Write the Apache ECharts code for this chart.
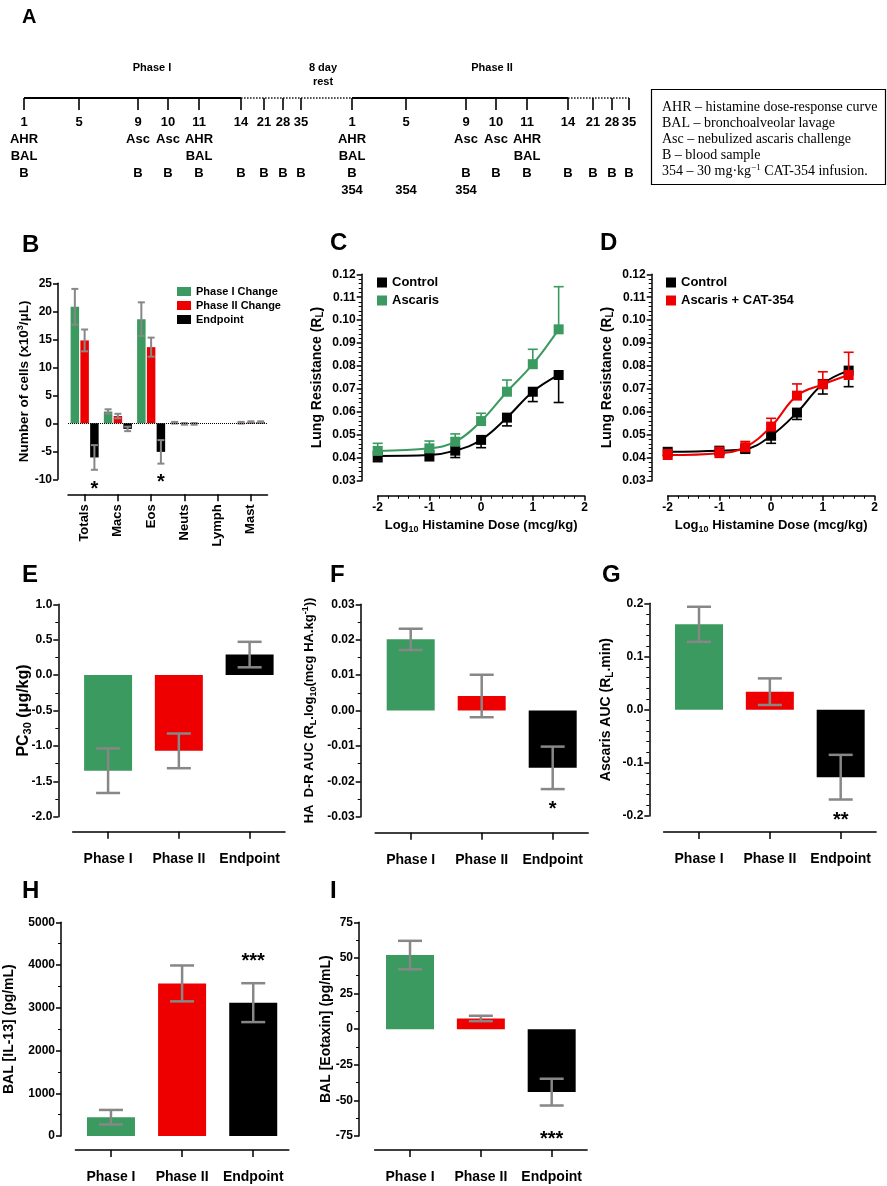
<!DOCTYPE html>
<html><head><meta charset="utf-8">
<script src="https://cdn.jsdelivr.net/npm/echarts@6/dist/echarts.min.js"></script>
<style>html,body{margin:0;padding:0;background:#fff}#c{width:887px;height:1186px}</style>
</head><body><div id="c"></div><script>
// ================= DATA =================
// Panel A – study timeline (schematic positions along the time bar)
const tlDays = ['1','5','9','10','11','14','21','28','35','1','5','9','10','11','14','21','28','35'];
const tlPos  = [0,5.5,11.4,14.4,17.5,21.7,24.0,25.9,27.7,32.8,38.2,44.2,47.2,50.3,54.4,56.9,58.8,60.5];
const tlRow1 = ['AHR','','Asc','Asc','AHR','','','','','AHR','','Asc','Asc','AHR','','','',''];
const tlRow2 = ['BAL','','','','BAL','','','','','BAL','','','','BAL','','','',''];
const tlRow3 = ['B','','B','B','B','B','B','B','B','B','','B','B','B','B','B','B','B'];
const tlRow4 = ['','','','','','','','','','354','354','354','','','','','',''];
const tlSegFrom = [0, 21.7, 32.8, 54.4];
const tlSegTo   = [21.7, 32.8, 54.4, 60.5];
const tlSegDotted = [false, true, false, true];
const tlHeaderText = ['Phase I', '8 day\nrest', 'Phase II'];
const tlHeaderPos  = [12.8, 29.9, 46.8];
const keyLines = ['AHR – histamine dose-response curve','BAL – bronchoalveolar lavage','Asc – nebulized ascaris challenge','B – blood sample','354 – 30 mg·kg{sup|−1} CAT-354 infusion.'];

// Panel B – BAL cells
const cellCats = ['Totals','Macs','Eos','Neuts','Lymph','Mast'];
const bNames = ['Phase I Change','Phase II Change','Endpoint'];
const bPhase1    = [20.8, 2.1, 18.6, 0.1, null, 0.1];
const bPhase1Err = [3.2, 0.4, 3.0, 0.15, null, 0.15];
const bPhase2    = [14.8, 1.3, 13.6, -0.1, null, 0.2];
const bPhase2Err = [1.95, 0.4, 1.7, 0.15, null, 0.15];
const bEnd       = [-6.1, -1.0, -5.1, -0.1, null, 0.2];
const bEndErr    = [2.2, 0.4, 2.1, 0.15, null, 0.15];
const bSig  = ['*','','*','','',''];
const bSigY = [-11.2, null, -10.1, null, null, null];

// Panels C, D – histamine dose response
const doseX = [-2, -1, -0.5, 0, 0.5, 1, 1.5];
const cControl    = [0.0408,0.0412,0.0431,0.0478,0.0575,0.0688,0.0761];
const cControlErr = [0.0025,0.0025,0.0030,0.0034,0.0036,0.0043,0.0120];
const cAscaris    = [0.0430,0.0441,0.0470,0.0560,0.0688,0.0808,0.0960];
const cAscarisErr = [0.0033,0.0032,0.0034,0.0034,0.0051,0.0065,0.0186];
const dControl    = [0.0426,0.0431,0.0438,0.0496,0.0597,0.0722,0.0780];
const dControlErr = [0.0015,0.0015,0.0015,0.0033,0.0030,0.0044,0.0070];
const dCat        = [0.0412,0.0420,0.0446,0.0536,0.0671,0.0720,0.0761];
const dCatErr     = [0.0023,0.0025,0.0025,0.0036,0.0051,0.0055,0.0099];

// Panels E–I
const groups = ['Phase I','Phase II','Endpoint'];
const ePC30 = [-1.35, -1.07, 0.29];      const ePC30Err = [0.315, 0.245, 0.18];
const fHA   = [0.0201, 0.0041, -0.0162]; const fHAErr   = [0.003, 0.006, 0.006];
const gAsc  = [0.1605, 0.0338, -0.127];  const gAscErr  = [0.033, 0.025, 0.042];
const hIL13 = [440, 3570, 3120];         const hIL13Err = [170, 420, 455];
const iEot  = [52.0, 7.5, -44.2];        const iEotErr  = [10, 1.9, 9.4];
const fSig = ['','','*'];   const fSigY = [null,null,-0.0272];
const gSig = ['','','**'];  const gSigY = [null,null,-0.2035];
const hSig = ['','','***']; const hSigY = [null,null,4150];
const iSig = ['','','***']; const iSigY = [null,null,-75.5];

// ================= STYLE =================
const FONT = '"Liberation Sans", Arial, Helvetica, sans-serif';
const SERIF = '"Liberation Serif", "Times New Roman", serif';
const GREEN = '#3b9a60', RED = '#ee0000', BLACK = '#000000', ERRC = '#878787';
const barColors = [GREEN, RED, BLACK];

function richName(size){
  const s = Math.round(size*0.68);
  return {color:'#000', fontFamily:FONT, fontWeight:'bold', fontSize:size,
    rich:{
      sub:{fontSize:s, fontFamily:FONT, fontWeight:'bold', color:'#000', verticalAlign:'bottom', lineHeight:size*1.25},
      sup:{fontSize:s, fontFamily:FONT, fontWeight:'bold', color:'#000', verticalAlign:'top', lineHeight:size*1.25}
    }};
}
const numFmt = d => v => (d==null? String(Math.round(v)) : v.toFixed(d));

function yAxisCfg(gi, min, max, interval, minor, offset, name, nameSize, nameGap, dec){
  return {type:'value', gridIndex:gi, min, max, interval, offset, position:'left',
    axisLine:{show:true, onZero:false, lineStyle:{color:'#000', width:1.5}},
    axisTick:{show:true, inside:false, length:5, lineStyle:{color:'#000', width:1.5}},
    minorTick:{show:minor>1, splitNumber:minor||5, length:3, lineStyle:{color:'#000', width:1}},
    splitLine:{show:false}, minorSplitLine:{show:false},
    axisLabel:{color:'#000', fontFamily:FONT, fontWeight:'bold', fontSize:12, margin:6, formatter:numFmt(dec)},
    name, nameLocation:'middle', nameGap, nameRotate:90, nameMoveOverlap:false, nameTextStyle:richName(nameSize)};
}
function catXCfg(gi, cats, offset, fontSize, margin, rotate){
  return {type:'category', gridIndex:gi, data:cats, offset, position:'bottom', boundaryGap:true,
    axisLine:{show:true, onZero:false, lineStyle:{color:'#000', width:1.5}},
    axisTick:{show:true, alignWithLabel:true, interval:0, length:7, lineStyle:{color:'#000', width:1.5}},
    axisLabel:{color:'#000', fontFamily:FONT, fontWeight:'bold', fontSize, margin, interval:0, rotate:rotate||0},
    splitLine:{show:false}};
}
function doseXCfg(gi){
  return {type:'value', gridIndex:gi, min:-2, max:2, interval:1, offset:15, position:'bottom',
    axisLine:{show:true, onZero:false, lineStyle:{color:'#000', width:1.5}},
    axisTick:{show:true, length:5, lineStyle:{color:'#000', width:1.5}},
    minorTick:{show:true, splitNumber:5, length:3, lineStyle:{color:'#000', width:1}},
    splitLine:{show:false}, minorSplitLine:{show:false},
    axisLabel:{color:'#000', fontFamily:FONT, fontWeight:'bold', fontSize:12, margin:6, formatter:numFmt(null)},
    name:'Log{sub|10} Histamine Dose (mcg/kg)', nameLocation:'middle', nameGap:22, nameMoveOverlap:false, nameTextStyle:richName(13)};
}

function errRender(offset, cap, color, lw, dir){
  return function(params, api){
    const x0 = api.value(0), m = api.value(1), e = api.value(2);
    if (isNaN(m) || isNaN(e)) return;
    const top = api.coord([x0, dir < 0 ? m : m + e]);
    const bot = api.coord([x0, dir > 0 ? m : m - e]);
    const x = top[0] + offset;
    const st = {stroke:color, lineWidth:lw};
    const kids = [{type:'line', shape:{x1:x, y1:top[1], x2:x, y2:bot[1]}, style:st}];
    if (dir >= 0) kids.push({type:'line', shape:{x1:x-cap/2, y1:top[1], x2:x+cap/2, y2:top[1]}, style:st});
    if (dir <= 0) kids.push({type:'line', shape:{x1:x-cap/2, y1:bot[1], x2:x+cap/2, y2:bot[1]}, style:st});
    return {type:'group', children:kids};
  };
}
function sigRender(texts, size, dx){
  return function(params, api){
    const t = texts[params.dataIndex]; if (!t) return;
    const c = api.coord([api.value(0), api.value(1)]);
    return {type:'text', x:c[0] + (dx||0), y:c[1] + 3, style:{text:t, fill:'#000', font:'bold '+size+'px '+FONT, align:'center', verticalAlign:'middle'}};
  };
}
function errData(vals, errs){ return vals.map((v,i)=>[i, v==null? NaN : v, errs[i]==null? NaN : errs[i]]); }
function sigData(ys){ return ys.map((y,i)=>[i, y==null? NaN : y]); }

// ================= LAYOUT =================
const grids = [
  {left:24, top:60, width:605, height:38},
  {left:68, top:283.3, width:199.5, height:196},
  {left:377.7, top:274.3, width:206.8, height:206.4},
  {left:667.7, top:274.3, width:206.8, height:206.4},
  {left:72.7, top:604.3, width:212.3, height:212.4},
  {left:375.2, top:604.3, width:213, height:212.4},
  {left:663.6, top:603.3, width:212.5, height:212.7},
  {left:75.4, top:922.3, width:213.4, height:213.7},
  {left:374.6, top:922.3, width:212.5, height:213.7}
].map(g => Object.assign({containLabel:false, outerBoundsMode:'none'}, g));

const letters = [['A',22,7,20],['B',22,233,24],['C',330,231,24],['D',600,231,24],['E',22,563,24],['F',330,563,24],['G',602,563,24],['H',22,879,24],['I',330,879,24]];

const xAxes = [
  {type:'value', gridIndex:0, min:0, max:60.5, show:false},
  catXCfg(1, cellCats, 15, 13, 10, 90),
  doseXCfg(2), doseXCfg(3),
  catXCfg(4, groups, 15, 14, 20), catXCfg(5, groups, 16, 14, 20), catXCfg(6, groups, 16, 14, 20),
  catXCfg(7, groups, 14, 14, 20), catXCfg(8, groups, 14, 14, 20)
];
const yAxes = [
  {type:'value', gridIndex:0, min:0, max:1, show:false},
  yAxisCfg(1, -10, 25, 5, 0, 10, 'Number of cells (x10{sup|3}/μL)', 13.5, 25, null),
  yAxisCfg(2, 0.03, 0.12, 0.01, 5, 16, 'Lung Resistance (R{sub|L})', 14, 36, 2),
  yAxisCfg(3, 0.03, 0.12, 0.01, 5, 16, 'Lung Resistance (R{sub|L})', 14, 36, 2),
  yAxisCfg(4, -2, 1, 0.5, 2, 14.4, 'PC{sub|30} (μg/kg)', 16, 25, 1),
  yAxisCfg(5, -0.03, 0.03, 0.01, 2, 14.5, 'HA  D-R AUC (R{sub|L}.log{sub|10}(mcg HA.kg{sup|-1}))', 13, 43, 2),
  yAxisCfg(6, -0.2, 0.2, 0.1, 5, 14.3, 'Ascaris AUC (R{sub|L}.min)', 14, 34, 1),
  yAxisCfg(7, 0, 5000, 1000, 2, 14.4, 'BAL [IL-13] (pg/mL)', 14, 45, null),
  yAxisCfg(8, -75, 75, 25, 2, 15.6, 'BAL [Eotaxin] (pg/mL)', 14, 26, null)
];

const series = [];
// --- Panel A ---
series.push({type:'custom', xAxisIndex:0, yAxisIndex:0, silent:true, clip:false, z:2,
  data: tlSegFrom.map((f,i)=>[f, tlSegTo[i]]),
  renderItem:(params, api)=>{
    const i = params.dataIndex;
    const a = api.coord([api.value(0), 0]), b = api.coord([api.value(1), 0]);
    const dotted = tlSegDotted[i];
    return {type:'line', shape:{x1:a[0], y1:a[1], x2:b[0], y2:b[1]},
      style:{stroke: dotted ? '#555' : '#000', lineWidth: dotted ? 1.8 : 2, lineDash: dotted ? [1.6,1.4] : null}};
  }});
series.push({type:'custom', xAxisIndex:0, yAxisIndex:0, silent:true, clip:false, z:3,
  data: tlPos.map(p=>[p, 0]),
  renderItem:(params, api)=>{
    const i = params.dataIndex;
    const c = api.coord([api.value(0), 0]); const x = c[0], y = c[1];
    const kids = [{type:'line', shape:{x1:x, y1:y, x2:x, y2:y+12}, style:{stroke:'#000', lineWidth:1.6}}];
    const rows = [tlDays[i], tlRow1[i], tlRow2[i], tlRow3[i], tlRow4[i]];
    const dys = [24.7, 41.3, 58.7, 75.3, 92];
    rows.forEach((t,r)=>{ if (t) kids.push({type:'text', x:x, y:y+dys[r], style:{text:t, fill:'#000', font:'bold 13px '+FONT, align:'center', verticalAlign:'middle'}}); });
    return {type:'group', children:kids};
  }});
series.push({type:'custom', xAxisIndex:0, yAxisIndex:0, silent:true, clip:false, z:3,
  data: tlHeaderPos.map(p=>[p, 0]),
  renderItem:(params, api)=>{
    const c = api.coord([api.value(0), 0]);
    return {type:'text', x:c[0], y:c[1]-37, style:{text:tlHeaderText[params.dataIndex], fill:'#000', font:'bold 11px '+FONT, lineHeight:14, align:'center', verticalAlign:'top'}};
  }});

// --- Panel B ---
const bVals = [bPhase1, bPhase2, bEnd], bErrs = [bPhase1Err, bPhase2Err, bEndErr];
const bBarW = 8.5, bStep = 8.5*1.15;
bVals.forEach((vals, s)=>{
  const ser = {type:'bar', name:bNames[s], xAxisIndex:1, yAxisIndex:1, data:vals.map(v=>v==null?'-':v),
    barWidth:bBarW, barGap:'15%', itemStyle:{color:barColors[s]}, z:2, silent:true};
  if (s===0) ser.markLine = {silent:true, symbol:['none','none'], label:{show:false}, animation:false,
    lineStyle:{type:'dotted', color:'#000', width:1}, data:[{yAxis:0}]};
  series.push(ser);
});
bVals.forEach((vals, s)=>{
  series.push({type:'custom', xAxisIndex:1, yAxisIndex:1, silent:true, clip:false, z:4,
    data: errData(vals, bErrs[s]), renderItem: errRender((s-1)*bStep, 7, ERRC, 2, 0)});
});
series.push({type:'custom', xAxisIndex:1, yAxisIndex:1, silent:true, clip:false, z:5,
  data: sigData(bSigY), renderItem: sigRender(bSig, 20, bStep)});

// --- Panels C, D ---
function dosePanel(k, names, colors, vals, errs, dirs){
  vals.forEach((v, s)=>{
    series.push({type:'custom', xAxisIndex:k, yAxisIndex:k, silent:true, clip:false, z:2+2*s,
      data: doseX.map((x,i)=>[x, v[i], errs[s][i]]), renderItem: errRender(0, 10, colors[s], 1.6, dirs[s])});
    series.push({type:'line', name:names[s], xAxisIndex:k, yAxisIndex:k, z:3+2*s, silent:true,
      data: doseX.map((x,i)=>[x, v[i]]), smooth:0.4, symbol:'rect', symbolSize:10,
      lineStyle:{color:colors[s], width:2}, itemStyle:{color:colors[s]}});
  });
}
dosePanel(2, ['Control','Ascaris'], [BLACK, GREEN], [cControl, cAscaris], [cControlErr, cAscarisErr], [-1, 1]);
dosePanel(3, ['Control','Ascaris + CAT-354'], [BLACK, RED], [dControl, dCat], [dControlErr, dCatErr], [-1, 1]);

// --- Panels E–I ---
function barPanel(k, vals, errs, sig, sigY){
  series.push({type:'bar', xAxisIndex:k, yAxisIndex:k, silent:true, barWidth:48, z:2,
    data: vals.map((v,i)=>({value:v, itemStyle:{color:barColors[i]}}))});
  series.push({type:'custom', xAxisIndex:k, yAxisIndex:k, silent:true, clip:false, z:4,
    data: errData(vals, errs), renderItem: errRender(0, 24, ERRC, 2.5, 0)});
  if (sig) series.push({type:'custom', xAxisIndex:k, yAxisIndex:k, silent:true, clip:false, z:5,
    data: sigData(sigY), renderItem: sigRender(sig, 20, 0)});
}
barPanel(4, ePC30, ePC30Err, null, null);
barPanel(5, fHA, fHAErr, fSig, fSigY);
barPanel(6, gAsc, gAscErr, gSig, gSigY);
barPanel(7, hIL13, hIL13Err, hSig, hSigY);
barPanel(8, iEot, iEotErr, iSig, iSigY);

const titles = letters.map(l => ({text:l[0], left:l[1], top:l[2], padding:0,
  textStyle:{fontFamily:FONT, fontWeight:'bold', fontSize:l[3], color:'#000'}}));
titles.push({text:keyLines.join('\n'), left:651, top:89, padding:[10,8,6,11], borderColor:'#000', borderWidth:1.2,
  textStyle:{fontFamily:SERIF, fontWeight:'normal', fontSize:14, lineHeight:16, color:'#000',
    rich:{sup:{fontFamily:SERIF, fontSize:9, color:'#000', verticalAlign:'top', lineHeight:16}}}});

const legTxt = size => ({fontFamily:FONT, fontWeight:'bold', fontSize:size, color:'#000'});
const legends = [
  {data:bNames, left:177, top:286, orient:'vertical', icon:'rect', itemWidth:14, itemHeight:9, itemGap:3, padding:0, textStyle:legTxt(11), selectedMode:false},
  {data:['Control','Ascaris'], left:377, top:276, orient:'vertical', icon:'rect', itemWidth:10, itemHeight:10, itemGap:5, padding:0, textStyle:legTxt(13), selectedMode:false},
  {data:['Control','Ascaris + CAT-354'], left:666, top:276, orient:'vertical', icon:'rect', itemWidth:10, itemHeight:10, itemGap:5, padding:0, textStyle:legTxt(13), selectedMode:false}
];

const chart = echarts.init(document.getElementById('c'), null, {renderer:'canvas', width:887, height:1186});
chart.setOption({animation:false, backgroundColor:'#fff', title:titles, legend:legends, grid:grids,
  xAxis:xAxes, yAxis:yAxes, series:series, tooltip:{show:false}});
</script></body></html>
